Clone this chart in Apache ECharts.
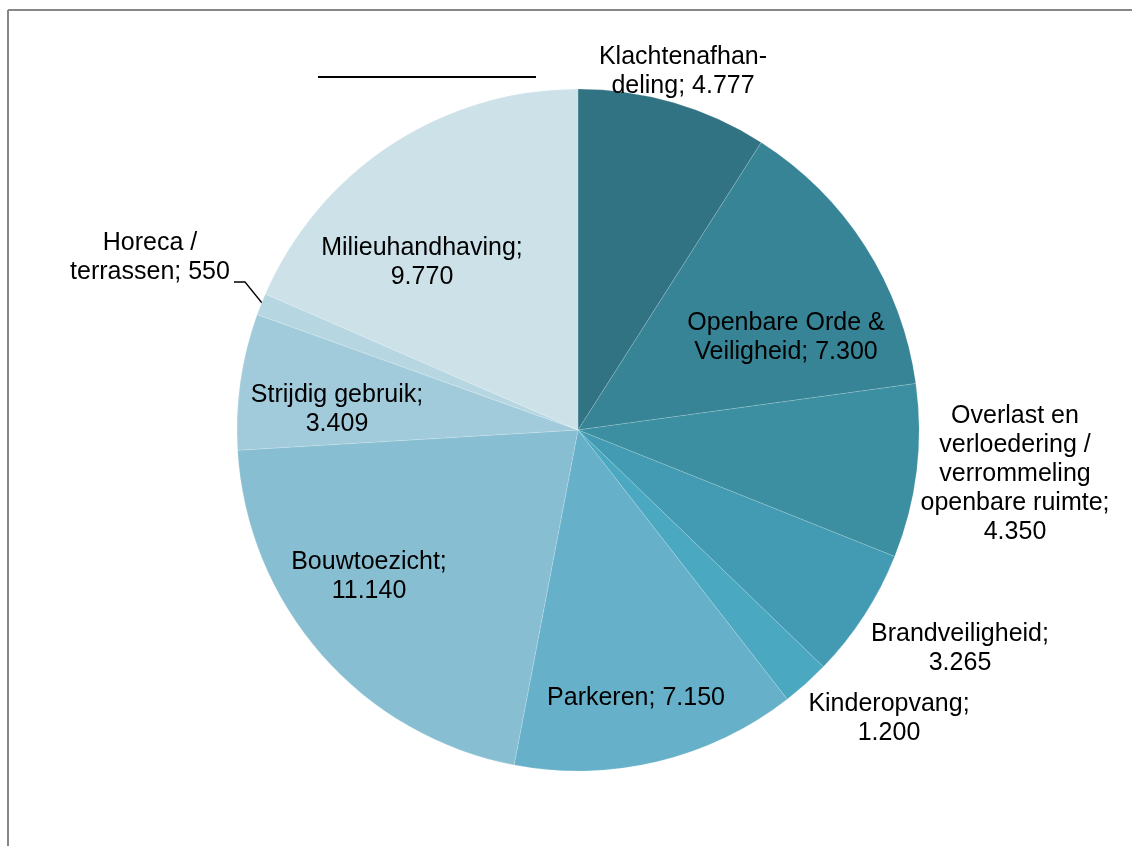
<!DOCTYPE html>
<html>
<head>
<meta charset="utf-8">
<script src="https://cdn.jsdelivr.net/npm/echarts@6/dist/echarts.min.js"></script>
<style>
html,body{margin:0;padding:0;background:#fff;}
#chart{width:1132px;height:846px;}
</style>
</head>
<body>
<div id="chart"></div>
<script>
const categories = [
  'Klachtenafhan-\ndeling',
  'Openbare Orde &\nVeiligheid',
  'Overlast en\nverloedering /\nverrommeling\nopenbare ruimte',
  'Brandveiligheid',
  'Kinderopvang',
  'Parkeren',
  'Bouwtoezicht',
  'Strijdig gebruik',
  'Horeca /\nterrassen',
  'Milieuhandhaving'
];
const values = [4777, 7300, 4350, 3265, 1200, 7150, 11140, 3409, 550, 9770];
const valueLabels = ['4.777', '7.300', '4.350', '3.265', '1.200', '7.150', '11.140', '3.409', '550', '9.770'];
const separators = [' ', ' ', '\n', '\n', '\n', ' ', '\n', '\n', ' ', '\n'];
const colors = ['#317383', '#368496', '#3b8fa1', '#429bb2', '#4aa8c0', '#66b1c9', '#88bed1', '#a1cbdb', '#b6d7e2', '#cde1e9'];

// label placement (layout only)
const labelPos = [
  [683, 72], [786, 338], [1015, 474], [960, 649], [889, 719],
  [636, 698], [369, 577], [337, 410], [150, 258], [422, 263]
];

const chart = echarts.init(document.getElementById('chart'));
chart.setOption({
  animation: false,
  backgroundColor: '#ffffff',
  textStyle: { fontFamily: 'Liberation Sans, Arial, sans-serif' },
  graphic: [
    { type: 'line', shape: { x1: 8, y1: 10, x2: 1132, y2: 10 }, style: { stroke: '#878787', lineWidth: 2 } },
    { type: 'line', shape: { x1: 8, y1: 10, x2: 8, y2: 846 }, style: { stroke: '#878787', lineWidth: 2 } },
    { type: 'line', shape: { x1: 318, y1: 77, x2: 536, y2: 77 }, style: { stroke: '#000000', lineWidth: 2 } }
  ],
  series: [{
    type: 'pie',
    center: [578, 430],
    radius: 341,
    startAngle: 90,
    clockwise: true,
    silent: true,
    itemStyle: { borderColor: 'rgba(255,255,255,0.3)', borderWidth: 0.5 },
    label: {
      show: true,
      position: 'inside',
      color: '#000',
      fontSize: 25,
      lineHeight: 29,
      align: 'center',
      overflow: 'none',
      fontFamily: 'Liberation Sans, Arial, sans-serif',
      formatter: p => categories[p.dataIndex] + ';' + separators[p.dataIndex] + valueLabels[p.dataIndex]
    },
    labelLine: { show: false },
    labelLayout: function (params) {
      const i = params.dataIndex;
      const r = {
        x: labelPos[i][0],
        y: labelPos[i][1],
        align: 'center',
        verticalAlign: 'middle'
      };
      if (i === 8) {
        r.labelLinePoints = [[234, 282], [245, 282], [262, 303]];
      }
      return r;
    },
    data: values.map((v, i) => ({
      value: v,
      name: categories[i],
      itemStyle: { color: colors[i] },
      label: i === 8 ? { position: 'outside', overflow: 'none' } : { position: 'inside' },
      labelLine: i === 8 ? { show: true, lineStyle: { color: '#000', width: 1.3 } } : { show: false }
    }))
  }]
});
</script>
</body>
</html>
